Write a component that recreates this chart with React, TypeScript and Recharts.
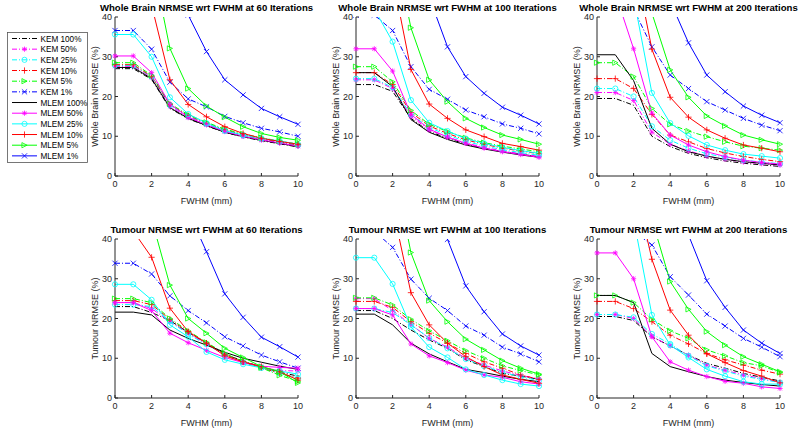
import React from 'react';
import { LineChart, Line, XAxis, YAxis } from 'recharts';

// FWHM of the post-filter (mm)
const fwhm = [0, 1, 2, 3, 4, 5, 6, 7, 8, 9, 10];
const xTicks = [0, 2, 4, 6, 8, 10];
const yTicks = [0, 10, 20, 30, 40];

const seriesNames = [
  'KEM 100%', 'KEM 50%', 'KEM 25%', 'KEM 10%', 'KEM 5%', 'KEM 1%',
  'MLEM 100%', 'MLEM 50%', 'MLEM 25%', 'MLEM 10%', 'MLEM 5%', 'MLEM 1%',
];
const baseColors = ['#000000', '#ff00ff', '#00ffff', '#ff0000', '#00ff00', '#0000ff'];
const baseMarkers = ['none', 'star', 'circle', 'plus', 'tri', 'x'];

// rows follow the legend order: KEM 100..1%, then MLEM 100..1%
const wholeBrain60 = [
  [27, 27, 24.3, 17, 14.4, 12.6, 11, 9.8, 8.9, 8.1, 7.3],
  [27.6, 27.6, 24.8, 17.5, 14.7, 12.9, 11.2, 10, 9.1, 8.3, 7.5],
  [27.8, 27.8, 25, 17.8, 15, 13.1, 11.4, 10.2, 9.3, 8.5, 7.7],
  [28, 28, 25.1, 18, 15.2, 13.3, 11.6, 10.4, 9.4, 8.6, 7.8],
  [28.5, 28.5, 25.3, 18.2, 15.4, 13.5, 11.8, 10.6, 9.6, 8.8, 8],
  [36.6, 36.6, 31.9, 23.6, 19.4, 17.4, 15, 13.4, 12, 11.1, 10],
  [27.3, 27.3, 24.5, 17.2, 14.5, 12.7, 11, 9.9, 9, 8.2, 7.4],
  [30.2, 30.2, 26, 18.1, 14.8, 12.9, 11.2, 10, 9.1, 8.3, 7.5],
  [35.6, 35.6, 30, 19.8, 15.6, 13.3, 11.4, 10.3, 9.5, 8.8, 8],
  [65, 60, 43, 24.2, 18, 14.9, 12.4, 10.7, 9.5, 8.7, 8],
  [80, 75, 55, 32.1, 22, 17.6, 14.8, 12.4, 10.7, 9.7, 9],
  [85, 80, 68, 52, 40.5, 31.3, 24.2, 20.4, 17, 14.9, 13],
];

const wholeBrain100 = [
  [23, 23, 21.3, 14.5, 11.2, 9.5, 8, 7, 6.1, 5.5, 4.8],
  [24.2, 24.2, 22, 15, 11.6, 9.8, 8.3, 7.2, 6.3, 5.6, 4.9],
  [24.5, 24.5, 22.3, 15.5, 12.2, 10.3, 8.7, 7.6, 6.6, 5.9, 5.2],
  [26, 26, 23, 16, 12.6, 10.7, 9.1, 8, 7, 6.3, 5.6],
  [27.5, 27.5, 23.7, 16.5, 13, 11.2, 9.6, 8.4, 7.5, 6.8, 6.1],
  [40.5, 40.5, 36.6, 27.5, 21.8, 19.3, 16.6, 14.9, 13.1, 12, 10.6],
  [26, 26, 22.5, 14.2, 11, 9.2, 7.8, 6.8, 6, 5.3, 4.7],
  [32, 32, 26.4, 15.5, 11.8, 9.8, 8.2, 7, 6.1, 5.4, 4.7],
  [42, 42, 33.8, 19.1, 13.4, 11.3, 9.4, 8.2, 7.2, 6.4, 5.7],
  [70, 65, 50, 26.8, 18.1, 14.5, 11.6, 9.9, 8.2, 7.4, 6.5],
  [85, 80, 60, 37.3, 24.2, 18.7, 14.5, 12.2, 10.3, 9.2, 8],
  [95, 90, 78, 60, 45, 32.5, 25, 20.8, 17.3, 15.3, 13.1],
];

const wholeBrain200 = [
  [19.5, 19.5, 17.8, 10, 7.4, 5.7, 4.6, 3.8, 3.2, 2.8, 2.4],
  [21, 21, 19, 11, 8, 6.3, 5, 4.2, 3.5, 3.1, 2.7],
  [22, 22, 20, 12.5, 9, 7, 5.6, 4.7, 4, 3.5, 3.1],
  [24.5, 24.5, 22, 15.5, 10.3, 8.6, 6.9, 5.8, 4.9, 4.2, 3.6],
  [28.5, 28.5, 25, 17, 13, 11.3, 9.9, 8.6, 7.5, 7, 6.5],
  [48, 46, 42, 32.5, 25.4, 22, 18.7, 16.6, 14.5, 12.8, 11.4],
  [30.5, 30.5, 24, 12, 8, 6.1, 5, 4.2, 3.6, 3.2, 2.8],
  [48, 46, 32, 15.8, 10.3, 7.8, 6.1, 4.9, 4, 3.4, 3],
  [60, 56, 45, 20.9, 13.3, 10.1, 7.8, 6.5, 5.5, 5, 4.5],
  [70, 66, 55, 31.9, 19.8, 14.8, 11.6, 9.5, 7.8, 7, 6.1],
  [85, 80, 62, 41, 26.7, 19.8, 15.1, 12.6, 10.3, 9.1, 8],
  [100, 95, 80, 60, 44, 33.5, 25.4, 21.2, 17.6, 15.3, 13.4],
];

const tumour60 = [
  [23, 23, 21.5, 19.5, 16.5, 13.8, 11, 9.3, 7.8, 6.5, 5.5],
  [24, 24, 22.5, 19.2, 16.3, 13.6, 10.9, 9, 7.7, 6.9, 6.8],
  [23.5, 23.5, 23, 19.4, 16, 13.5, 10.8, 9, 7.6, 6.2, 5],
  [24.5, 24.5, 23.5, 19.8, 16.6, 13.8, 11, 9.1, 7.6, 6.2, 5],
  [25, 25, 24, 20, 16.9, 14, 11.2, 9.2, 7.6, 5.7, 4.2],
  [33.9, 33.9, 31.2, 25.7, 22, 18.9, 15.4, 13.1, 10.8, 9.1, 7.5],
  [21.6, 21.6, 20.9, 17.1, 15, 13.3, 11.5, 10, 9, 8, 7.2],
  [24, 24, 22, 16.3, 13.9, 12, 10.2, 8.9, 8, 7.7, 7.5],
  [28.6, 28.6, 24.7, 18.4, 15.4, 11.6, 9.6, 8.5, 7.6, 6.8, 6],
  [44, 42, 35.4, 22.6, 16.7, 13.8, 10.6, 9.1, 7.9, 6.6, 4.5],
  [60, 55, 45, 28.4, 20, 16.3, 12.5, 10.2, 7.9, 6.6, 3.8],
  [80, 75, 62, 52, 47, 36.8, 26.2, 20.3, 15.3, 12.9, 10.3],
];

const tumour100 = [
  [22, 22, 20, 17.1, 14.6, 12.5, 9.6, 7.9, 6.2, 5.5, 4.7],
  [25, 25, 22, 18.5, 15, 12.8, 10, 8.3, 6.8, 5.7, 4.8],
  [22.5, 22.5, 21.5, 18.4, 15.1, 12.5, 9.8, 8, 6.5, 5.3, 4.4],
  [24.3, 24.3, 22.8, 19.2, 16.3, 13.8, 11.2, 9.1, 7.5, 5.8, 4.7],
  [25.2, 25.2, 23.4, 19.8, 16.9, 14.4, 11.9, 10, 8.1, 6.9, 5.8],
  [42, 42, 37.9, 29.9, 25.1, 22, 18.1, 15.8, 12.8, 11.1, 9.1],
  [21.1, 21.1, 18.4, 13.8, 11.1, 9.1, 7.2, 6.4, 5.5, 4.7, 4.1],
  [22.5, 22.5, 20.9, 13.6, 10.6, 8.9, 7, 5.8, 5.2, 4.1, 3.5],
  [35.3, 35.3, 28.7, 17.9, 12.8, 10.2, 7.2, 5.8, 4.5, 3.5, 3],
  [70, 65, 48, 26.5, 18.4, 13.8, 10.4, 7.9, 5.8, 4.7, 3.7],
  [85, 80, 60, 36.6, 24.5, 19.2, 14.8, 12.1, 9.4, 7.5, 6],
  [100, 95, 85, 70, 52, 39.9, 28.2, 21.7, 16.1, 13.1, 10.8],
];

const tumour200 = [
  [20.5, 20.5, 19.5, 15.4, 13.1, 10.8, 8.7, 7.5, 6.2, 5.2, 4.3],
  [21, 21, 20, 15.5, 13.1, 10.8, 8.3, 7, 5.8, 4.9, 3.9],
  [21, 21, 20.3, 16.1, 13.6, 10.6, 8.1, 6.8, 5.5, 4.7, 3.9],
  [24.3, 24.3, 22.5, 19.2, 15.8, 13.6, 11.2, 9.6, 8.3, 7, 6],
  [25.8, 25.8, 24, 19.8, 16.9, 15, 12.1, 10.6, 8.9, 8.1, 6.4],
  [46, 45, 42, 38.5, 30.5, 25.9, 21.1, 18.1, 15, 12.8, 10.4],
  [25.8, 25.8, 24, 11.2, 7.9, 6.6, 5.4, 4.5, 3.9, 3.4, 3],
  [36.5, 36.5, 30, 15.4, 9.1, 7, 5.4, 4.2, 3.7, 2.8, 2.4],
  [55, 50, 45, 20.9, 13.3, 10.2, 7.2, 5.5, 4.1, 3.5, 3.5],
  [75, 70, 55, 34.9, 22.1, 15.8, 11.1, 8.9, 6.9, 5.5, 3.8],
  [90, 85, 65, 45, 29.3, 22.3, 16.7, 13.3, 10.4, 8.5, 6.6],
  [110, 100, 90, 70, 52, 41, 29.5, 22.8, 17.1, 13.8, 11.2],
];

const FONT = '"Liberation Sans", Arial, Helvetica, sans-serif';
const AXIS = '#262626';
const DASHDOT = '5 2 1 2';

const COLS = [115, 356, 597];
const ROWS = [17, 239];
const PW = 183;
const PH = 159;

function Marker({ kind, cx, cy, color, r = 2.6 }: { kind: string; cx: number; cy: number; color: string; r?: number }) {
  const sw = 0.8;
  if (kind === 'circle') return <circle cx={cx} cy={cy} r={r} fill="none" stroke={color} strokeWidth={sw} />;
  if (kind === 'plus')
    return (
      <g stroke={color} strokeWidth={sw}>
        <line x1={cx - r - 0.5} y1={cy} x2={cx + r + 0.5} y2={cy} />
        <line x1={cx} y1={cy - r - 0.5} x2={cx} y2={cy + r + 0.5} />
      </g>
    );
  if (kind === 'x')
    return (
      <g stroke={color} strokeWidth={sw}>
        <line x1={cx - r} y1={cy - r} x2={cx + r} y2={cy + r} />
        <line x1={cx - r} y1={cy + r} x2={cx + r} y2={cy - r} />
      </g>
    );
  if (kind === 'star') {
    const d = r * 0.75;
    return (
      <g stroke={color} strokeWidth={sw}>
        <line x1={cx - r} y1={cy} x2={cx + r} y2={cy} />
        <line x1={cx} y1={cy - r} x2={cx} y2={cy + r} />
        <line x1={cx - d} y1={cy - d} x2={cx + d} y2={cy + d} />
        <line x1={cx - d} y1={cy + d} x2={cx + d} y2={cy - d} />
      </g>
    );
  }
  if (kind === 'tri')
    return (
      <polygon
        points={`${cx + r},${cy} ${cx - r},${cy - r} ${cx - r},${cy + r}`}
        fill="none"
        stroke={color}
        strokeWidth={sw}
      />
    );
  return null;
}

function Panel({ title, yLabel, values, col, row }: { title: string; yLabel: string; values: number[][]; col: number; row: number }) {
  const left = COLS[col];
  const top = ROWS[row];
  const rows = fwhm.map((x, i) => {
    const r: Record<string, number> = { x };
    values.forEach((s, j) => {
      r['s' + j] = s[i];
    });
    return r;
  });
  const tickStyle = { fontSize: 9, fill: AXIS, fontFamily: FONT };
  return (
    <>
      <div
        style={{
          position: 'absolute',
          left: left - 20,
          width: PW + 40,
          top: top - 14,
          lineHeight: '10px',
          textAlign: 'center',
          fontFamily: FONT,
          fontWeight: 'bold',
          fontSize: 9.6,
          whiteSpace: 'nowrap',
          color: '#000',
        }}
      >
        {title}
      </div>
      <div style={{ position: 'absolute', left: left - 45, top: top - 10 }}>
        <LineChart width={PW + 55} height={PH + 50} data={rows} margin={{ top: 10, right: 10, bottom: 0, left: 0 }}>
          <XAxis
            dataKey="x"
            type="number"
            domain={[0, 10]}
            ticks={xTicks}
            height={40}
            stroke={AXIS}
            tickSize={-3}
            tickMargin={8}
            tick={tickStyle}
            label={{ value: 'FWHM (mm)', position: 'insideBottom', offset: 12, style: { fontSize: 9, fill: AXIS, fontFamily: FONT } }}
          />
          <XAxis
            xAxisId="top"
            dataKey="x"
            orientation="top"
            type="number"
            domain={[0, 10]}
            ticks={xTicks}
            height={0}
            stroke={AXIS}
            tickSize={-3}
            tick={false}
          />
          <YAxis
            type="number"
            domain={[0, 40]}
            ticks={yTicks}
            allowDataOverflow
            width={45}
            stroke={AXIS}
            tickSize={-3}
            tickMargin={6}
            tick={tickStyle}
            label={{
              value: yLabel,
              angle: -90,
              position: 'insideLeft',
              offset: 25,
              style: { fontSize: 9, fill: AXIS, fontFamily: FONT, textAnchor: 'middle' },
            }}
          />
          <YAxis
            yAxisId="right"
            orientation="right"
            type="number"
            domain={[0, 40]}
            ticks={yTicks}
            width={0}
            stroke={AXIS}
            tickSize={-3}
            tick={false}
          />
          {values.map((_, j) => {
            const color = baseColors[j % 6];
            const kind = baseMarkers[j % 6];
            const dashed = j < 6;
            return (
              <Line
                key={'s' + j}
                dataKey={'s' + j}
                type="linear"
                stroke={color}
                strokeWidth={1}
                strokeDasharray={dashed ? DASHDOT : undefined}
                isAnimationActive={false}
                activeDot={false}
                dot={(p: any) => {
                  if (p.cx == null || p.cy == null) return <g key={`d${j}-${p.index}`} />;
                  return (
                    <g key={`d${j}-${p.index}`}>
                      <Marker kind={kind} cx={p.cx} cy={p.cy} color={color} />
                    </g>
                  );
                }}
              />
            );
          })}
        </LineChart>
      </div>
    </>
  );
}

function LegendBox() {
  const rowH = 10.67;
  return (
    <svg
      width={81}
      height={131}
      style={{ position: 'absolute', left: 7, top: 32 }}
    >
      <rect x={0.5} y={0.5} width={80} height={130} fill="#fff" stroke="#555" strokeWidth={0.8} />
      {seriesNames.map((name, j) => {
        const y = 6.5 + j * rowH;
        const color = baseColors[j % 6];
        return (
          <g key={name}>
            <line
              x1={5}
              y1={y}
              x2={30}
              y2={y}
              stroke={color}
              strokeWidth={1}
              strokeDasharray={j < 6 ? DASHDOT : undefined}
            />
            <Marker kind={baseMarkers[j % 6]} cx={17.5} cy={y} color={color} />
            <text x={33.5} y={y + 3} fontSize={8.2} fontFamily={FONT} fill="#000">
              {name}
            </text>
          </g>
        );
      })}
    </svg>
  );
}

export default function App() {
  return (
    <div style={{ position: 'absolute', left: 0, top: 0, width: 800, height: 432, background: '#fff', overflow: 'hidden' }}>
      <Panel title="Whole Brain NRMSE wrt FWHM at 60 Iterations" yLabel="Whole Brain NRMSE (%)" values={wholeBrain60} col={0} row={0} />
      <Panel title="Whole Brain NRMSE wrt FWHM at 100 Iterations" yLabel="Whole Brain NRMSE (%)" values={wholeBrain100} col={1} row={0} />
      <Panel title="Whole Brain NRMSE wrt FWHM at 200 Iterations" yLabel="Whole Brain NRMSE (%)" values={wholeBrain200} col={2} row={0} />
      <Panel title="Tumour NRMSE wrt FWHM at 60 Iterations" yLabel="Tumour NRMSE (%)" values={tumour60} col={0} row={1} />
      <Panel title="Tumour NRMSE wrt FWHM at 100 Iterations" yLabel="Tumour NRMSE (%)" values={tumour100} col={1} row={1} />
      <Panel title="Tumour NRMSE wrt FWHM at 200 Iterations" yLabel="Tumour NRMSE (%)" values={tumour200} col={2} row={1} />
      <LegendBox />
    </div>
  );
}
